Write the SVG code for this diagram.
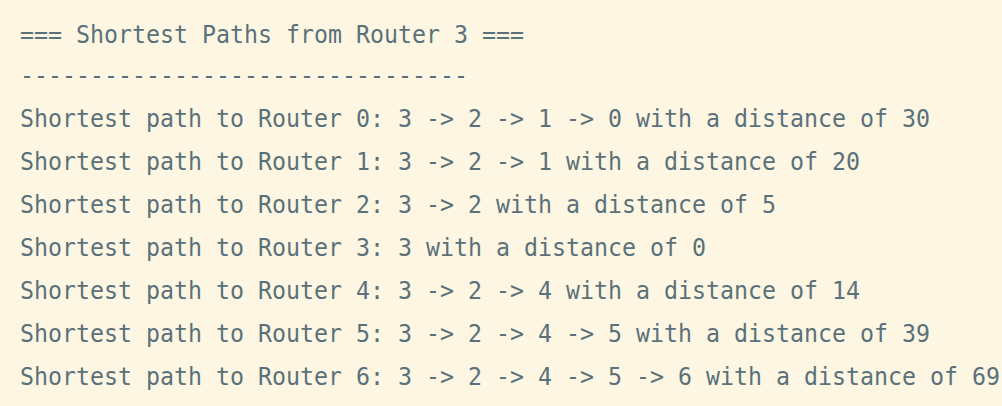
<svg xmlns="http://www.w3.org/2000/svg" width="1002" height="406" viewBox="0 0 1002 406">
<style>
.t{font-family:"DejaVu Sans Mono","Liberation Mono",monospace;font-size:24px;fill:#5b7179;}
</style>
<rect x="0" y="0" width="1002" height="406" fill="#fdf6e3"/>
<g id="output">
<text class="t" x="20" y="43" textLength="504" lengthAdjust="spacingAndGlyphs">=== Shortest Paths from Router 3 ===</text>
<text class="t" x="20" y="84" textLength="448" lengthAdjust="spacingAndGlyphs">--------------------------------</text>
<text class="t" x="20" y="127" textLength="910" lengthAdjust="spacingAndGlyphs">Shortest path to Router 0: 3 -&gt; 2 -&gt; 1 -&gt; 0 with a distance of 30</text>
<text class="t" x="20" y="170" textLength="840" lengthAdjust="spacingAndGlyphs">Shortest path to Router 1: 3 -&gt; 2 -&gt; 1 with a distance of 20</text>
<text class="t" x="20" y="213" textLength="756" lengthAdjust="spacingAndGlyphs">Shortest path to Router 2: 3 -&gt; 2 with a distance of 5</text>
<text class="t" x="20" y="256" textLength="686" lengthAdjust="spacingAndGlyphs">Shortest path to Router 3: 3 with a distance of 0</text>
<text class="t" x="20" y="299" textLength="840" lengthAdjust="spacingAndGlyphs">Shortest path to Router 4: 3 -&gt; 2 -&gt; 4 with a distance of 14</text>
<text class="t" x="20" y="342" textLength="910" lengthAdjust="spacingAndGlyphs">Shortest path to Router 5: 3 -&gt; 2 -&gt; 4 -&gt; 5 with a distance of 39</text>
<text class="t" x="20" y="385" textLength="980" lengthAdjust="spacingAndGlyphs">Shortest path to Router 6: 3 -&gt; 2 -&gt; 4 -&gt; 5 -&gt; 6 with a distance of 69</text>
</g>
</svg>
